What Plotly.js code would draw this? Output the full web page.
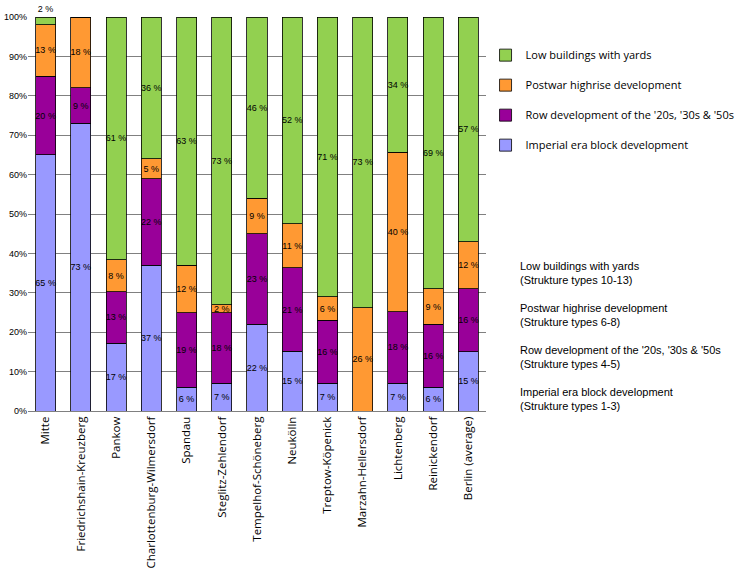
<!DOCTYPE html>
<html>
<head>
<meta charset="utf-8">
<script src="https://cdn.plot.ly/plotly-3.0.1.min.js"></script>
<style>
  html, body { margin: 0; padding: 0; background: #ffffff; }
  #chart { width: 750px; height: 575px; }
</style>
</head>
<body>
<div id="chart"></div>
<script>
// Berlin districts: share of building structure types (%)
const districts = [
  'Mitte', 'Friedrichshain-Kreuzberg', 'Pankow', 'Charlottenburg-Wilmersdorf',
  'Spandau', 'Steglitz-Zehlendorf', 'Tempelhof-Schöneberg', 'Neukölln',
  'Treptow-Köpenick', 'Marzahn-Hellersdorf', 'Lichtenberg', 'Reinickendorf',
  'Berlin (average)'
];
const imperialBlock = [65, 73, 17, 37, 6, 7, 22, 15, 7, 0, 7, 6, 15];
const rowDevelopment = [20, 9, 13, 22, 19, 18, 23, 21, 16, 0, 18, 16, 16];
const postwarHighrise = [13, 18, 8, 5, 12, 2, 9, 11, 6, 26, 40, 9, 12];
const lowBuildings = [2, 0, 61, 36, 63, 73, 46, 52, 71, 73, 34, 69, 57];

const seriesNames = [
  'Imperial era block development',
  "Row development of the '20s, '30s & '50s",
  'Postwar highrise development',
  'Low buildings with yards'
];
const seriesValues = [imperialBlock, rowDevelopment, postwarHighrise, lowBuildings];
const seriesColors = ['#9999ff', '#990099', '#ff9933', '#92d050'];

const yTicks = [0, 10, 20, 30, 40, 50, 60, 70, 80, 90, 100];

const noteLines = [
  ['Low buildings with yards', '(Strukture types 10-13)'],
  ['Postwar highrise development', '(Strukture types 6-8)'],
  ["Row development of the '20s, '30s & '50s", '(Strukture types 4-5)'],
  ['Imperial era block development', '(Strukture types 1-3)']
];

const labelFont = { family: 'Liberation Sans, Arial, sans-serif', size: 9, color: '#000000' };

const traces = seriesValues.map((vals, i) => {
  const last = i === seriesValues.length - 1;
  return {
    type: 'bar',
    name: seriesNames[i],
    legendgroup: 'g' + i,
    legendrank: seriesValues.length - i,
    x: districts,
    y: vals,
    text: vals.map(v => (v ? v + ' %' : '')),
    textposition: vals.map(v => (last && v < 5 ? 'outside' : 'inside')),
    insidetextanchor: 'middle',
    textangle: 0,
    constraintext: 'none',
    cliponaxis: false,
    textfont: labelFont,
    insidetextfont: labelFont,
    outsidetextfont: labelFont,
    hoverinfo: 'x+y+name',
    marker: {
      color: seriesColors[i],
      line: { color: '#000000', width: 0.8 }
    }
  };
});

const annotations = [];
noteLines.forEach((pair, k) => {
  annotations.push({
    xref: 'paper', yref: 'paper',
    x: 1.07, y: 0.388 - k * 0.1065,
    xanchor: 'left', yanchor: 'top',
    align: 'left',
    showarrow: false,
    text: pair[0] + '<br>' + pair[1],
    font: { family: 'Liberation Sans, Arial, sans-serif', size: 11, color: '#000000' }
  });
});

const layout = {
  width: 750,
  height: 575,
  margin: { l: 28, r: 264, t: 17, b: 164, autoexpand: false },
  paper_bgcolor: '#ffffff',
  plot_bgcolor: '#ffffff',
  barmode: 'stack',
  barnorm: 'percent',
  bargap: 0.43,
  uniformtext: { mode: 'show', minsize: 8 },
  showlegend: true,
  legend: {
    x: 0.999, y: 0.94,
    xanchor: 'left', yanchor: 'top',
    traceorder: 'grouped',
    tracegroupgap: 11,
    itemwidth: 30,
    font: { family: 'Open Sans, sans-serif', size: 11, color: '#000000' },
    bgcolor: 'rgba(0,0,0,0)'
  },
  xaxis: {
    type: 'category',
    tickangle: -90,
    tickfont: { family: 'Open Sans, sans-serif', size: 11.5, color: '#000000' },
    showline: true,
    linecolor: '#808080',
    linewidth: 1,
    ticks: '',
    showgrid: false,
    fixedrange: true
  },
  yaxis: {
    range: [0, 100],
    tickvals: yTicks,
    ticktext: yTicks.map(v => v + '%'),
    tickfont: { family: 'Liberation Sans, Arial, sans-serif', size: 9, color: '#000000' },
    showgrid: true,
    gridcolor: '#808080',
    gridwidth: 1,
    zeroline: false,
    showline: false,
    ticks: '',
    fixedrange: true
  },
  annotations: annotations
};

Plotly.newPlot('chart', traces, layout, { displayModeBar: false, staticPlot: true });
</script>
</body>
</html>
